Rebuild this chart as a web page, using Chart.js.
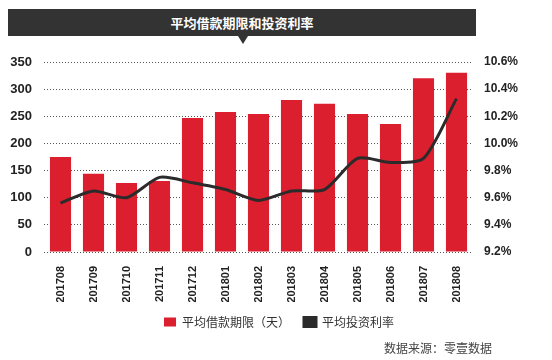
<!DOCTYPE html>
<html>
<head>
<meta charset="utf-8">
<script src="https://cdn.jsdelivr.net/npm/chart.js@4"></script>
<style>
  html,body{margin:0;padding:0;background:#fff;}
  #wrap{position:relative;width:552px;height:360px;}
  #title{position:absolute;left:8px;top:9px;width:468px;height:27px;background:#333;color:#fff;
    font:bold 13px "Noto Sans CJK SC",sans-serif;text-align:center;line-height:27px;}
  #tri{position:absolute;left:238px;top:36px;width:0;height:0;border-left:5px solid transparent;
    border-right:5px solid transparent;border-top:8px solid #333;}
  #src{position:absolute;left:384px;top:339px;font:12px "Noto Sans CJK SC",sans-serif;color:#444;}
  canvas{position:absolute;left:0;top:0;}
</style>
</head>
<body>
<div id="wrap">
  <canvas id="c" width="552" height="360"></canvas>
  <div id="title">平均借款期限和投资利率</div>
  <div id="tri"></div>
  <div id="src">数据来源：零壹数据</div>
</div>
<script>
// 数据
const MONTHS = ["201708","201709","201710","201711","201712","201801","201802","201803","201804","201805","201806","201807","201808"];
const TERM_DAYS = [175,144,127,131,247,258,254,280,273,254,236,320,330];
const RATE = [9.56,9.65,9.60,9.75,9.71,9.66,9.58,9.65,9.66,9.89,9.86,9.89,10.33];
const LEFT_TICKS = [0,350,50];
const RIGHT_TICKS = [9.2,10.6,0.2];

const tickFont = {family:"Liberation Sans, Arial, sans-serif", size:12, weight:"bold"};

new Chart(document.getElementById("c"), {
  data: {
    labels: MONTHS,
    datasets: [
      {type:"bar", label:"平均借款期限（天）", data:TERM_DAYS, yAxisID:"y", order:1,
       backgroundColor:"#dc1f2e", barPercentage:0.64, categoryPercentage:1},
      {type:"line", label:"平均投资利率", data:RATE, yAxisID:"y2", order:0,
       borderColor:"#2b2b2b", backgroundColor:"#2b2b2b", borderWidth:3,
       pointRadius:0, tension:0.25}
    ]
  },
  options: {
    responsive:false,
    animation:false,
    layout:{padding:{top:62, left:6, right:0, bottom:22}},
    scales: {
      x: {
        grid:{display:false}, border:{display:false},
        ticks:{minRotation:90, maxRotation:90, color:"#222", font:{...tickFont, size:11}, padding:6},
        afterFit: s => { s.height = 50; }
      },
      y: {
        position:"left", min:LEFT_TICKS[0], max:LEFT_TICKS[1],
        ticks:{stepSize:LEFT_TICKS[2], color:"#222", font:{...tickFont, size:13}, padding:12},
        grid:{color:"#555", tickLength:0, lineWidth:1},
        border:{display:false, dash:[1,2]},
        afterFit: s => { s.width = 38; }
      },
      y2: {
        position:"right", min:RIGHT_TICKS[0], max:RIGHT_TICKS[1],
        ticks:{stepSize:RIGHT_TICKS[2], color:"#222", font:tickFont, padding:3,
               callback: v => Number(v).toFixed(1) + "%"},
        grid:{display:false}, border:{display:false},
        afterFit: s => { s.width = 79; }
      }
    },
    plugins: {
      legend: {
        position:"bottom",
        labels:{boxWidth:12, boxHeight:9, color:"#333",
                font:{family:"Noto Sans CJK SC, sans-serif", size:12}, padding:14,
                sort:(a,b)=>a.datasetIndex-b.datasetIndex}
      },
      tooltip:{enabled:false}
    }
  }
});
</script>
</body>
</html>
